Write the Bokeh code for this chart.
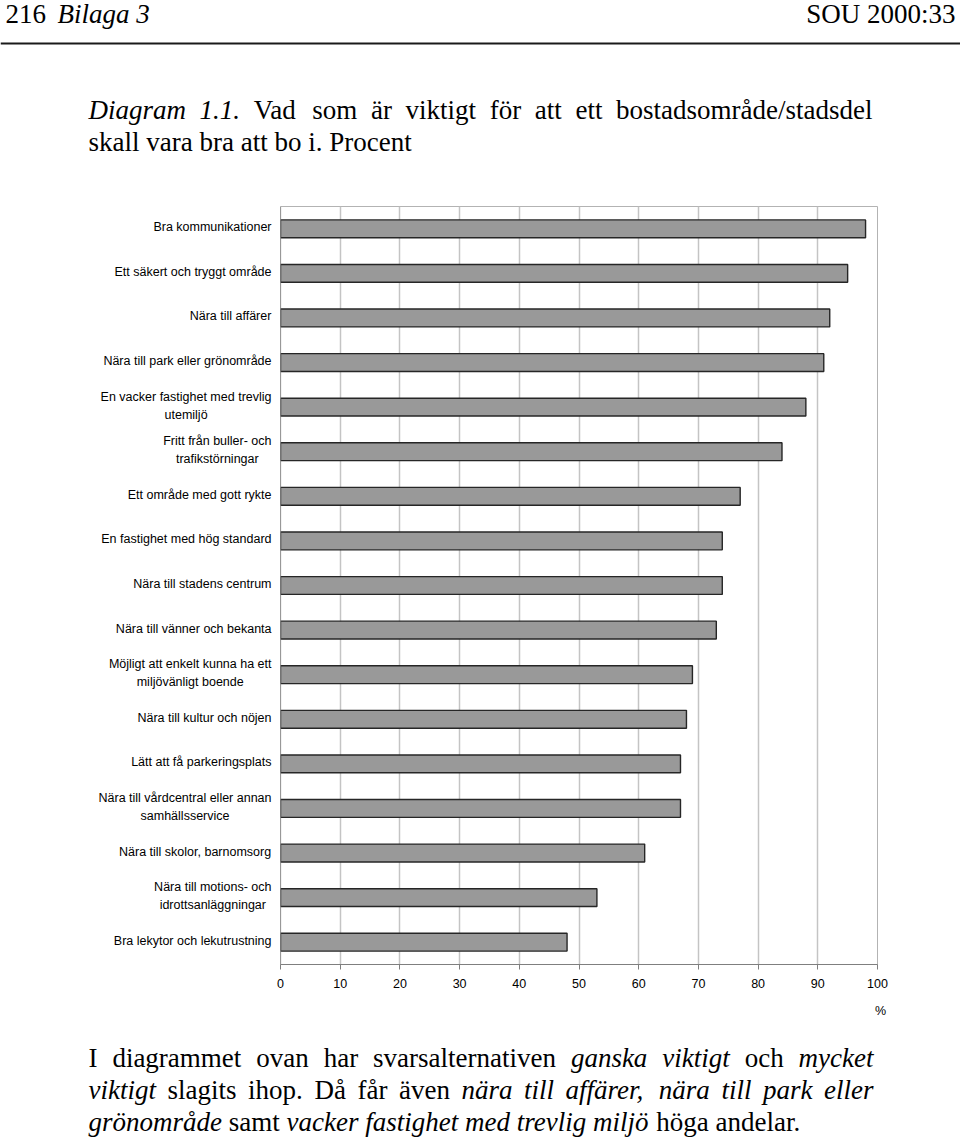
import unicodedata
from bokeh.plotting import figure
from bokeh.layouts import column, row
from bokeh.models import Range1d, ColumnDataSource, FixedTicker, Span
from bokeh.core.properties import value
from bokeh.embed import file_html
from bokeh.resources import INLINE

# ---------------- data ----------------
categories = [
    "Bra kommunikationer",
    "Ett säkert och tryggt område",
    "Nära till affärer",
    "Nära till park eller grönområde",
    "En vacker fastighet med trevlig\nutemiljö",
    "Fritt från buller- och\ntrafikstörningar",
    "Ett område med gott rykte",
    "En fastighet med hög standard",
    "Nära till stadens centrum",
    "Nära till vänner och bekanta",
    "Möjligt att enkelt kunna ha ett\nmiljövänligt boende",
    "Nära till kultur och nöjen",
    "Lätt att få parkeringsplats",
    "Nära till vårdcentral eller annan\nsamhällsservice",
    "Nära till skolor, barnomsorg",
    "Nära till motions- och\nidrottsanläggningar",
    "Bra lekytor och lekutrustning",
]
values = [98, 95, 92, 91, 88, 84, 77, 74, 74, 73, 69, 68, 67, 67, 61, 53, 48]
x_ticks = [0, 10, 20, 30, 40, 50, 60, 70, 80, 90, 100]
axis_unit = "%"

header_left = [("216", "normal"), ("Bilaga 3", "italic")]
header_right = "SOU 2000:33"
title_line1 = [("Diagram 1.1.", "italic"),
               ("Vad som är viktigt för att ett bostadsområde/stadsdel", "normal")]
title_line2 = [("skall vara bra att bo i. Procent", "normal")]
body_line1 = [("I diagrammet ovan har svarsalternativen", "normal"),
              ("ganska viktigt", "italic"), ("och", "normal"), ("mycket", "italic")]
body_line2 = [("viktigt", "italic"), ("slagits ihop. Då får även", "normal"),
              ("nära till affärer,", "italic"), ("nära till park eller", "italic")]
body_line3 = [("grönområde", "italic"), ("samt", "normal"),
              ("vacker fastighet med trevlig miljö", "italic"), ("höga andelar.", "normal")]

# ---------------- font metrics (1/1000 em) ----------------
ARIAL = {' ': 278, 'a': 556, 'b': 556, 'c': 500, 'd': 556, 'e': 556, 'f': 278, 'g': 556,
         'h': 556, 'i': 222, 'j': 222, 'k': 500, 'l': 222, 'm': 833, 'n': 556, 'o': 556,
         'p': 556, 'q': 556, 'r': 333, 's': 500, 't': 278, 'u': 556, 'v': 500, 'w': 722,
         'x': 500, 'y': 500, 'z': 500, '-': 333, ',': 278, '.': 278, 'B': 667, 'E': 667,
         'F': 611, 'L': 556, 'M': 833, 'N': 722}
TIMES_R = {' ': 250, 'a': 444, 'b': 500, 'c': 444, 'd': 500, 'e': 444, 'f': 333, 'g': 500,
           'h': 500, 'i': 278, 'j': 278, 'k': 500, 'l': 278, 'm': 778, 'n': 500, 'o': 500,
           'p': 500, 'q': 500, 'r': 333, 's': 389, 't': 278, 'u': 500, 'v': 500, 'w': 722,
           'x': 500, 'y': 500, 'z': 444, '.': 250, ',': 250, '/': 278, ':': 278, '-': 333,
           'I': 333, 'D': 722, 'V': 722, 'P': 556, 'S': 556, 'O': 722, 'U': 722, 'B': 667}
TIMES_I = {' ': 250, 'a': 500, 'b': 500, 'c': 444, 'd': 500, 'e': 444, 'f': 278, 'g': 500,
           'h': 500, 'i': 278, 'j': 278, 'k': 444, 'l': 278, 'm': 722, 'n': 500, 'o': 500,
           'p': 500, 'q': 500, 'r': 389, 's': 389, 't': 278, 'u': 500, 'v': 444, 'w': 667,
           'x': 444, 'y': 444, 'z': 389, '.': 250, ',': 250, 'B': 611, 'D': 722}


def text_w(s, table, size):
    tot = 0
    for c in s:
        b = unicodedata.normalize("NFD", c)[0]
        tot += table.get(b, 500)
    return tot * size / 1000.0


def tbl(st):
    return TIMES_I if st == "italic" else TIMES_R


PAGE_W, PAGE_H = 960, 1141
TOP_H = 206            # header + title block
MID_H = 792            # chart block (frame 758 + axis 34)
AXIS_H = 34
BOT_H = PAGE_H - TOP_H - MID_H
LAB_W = 274
SERIF = "Liberation Serif"
SANS = "Liberation Sans"
FS = 27
DY = -9                # baseline correction


def blank_fig(w, h, xr, yr):
    f = figure(width=w, height=h, x_range=xr, y_range=yr, min_border=0,
               output_backend="svg", toolbar_location=None, tools="")
    f.axis.visible = False
    f.grid.visible = False
    f.outline_line_color = None
    f.background_fill_color = "white"
    f.border_fill_color = "white"
    return f


class TextCollector:
    def __init__(self):
        self.d = dict(x=[], y=[], text=[], style=[], align=[])

    def add(self, x, y, t, st, align="left"):
        self.d["x"].append(x)
        self.d["y"].append(y + DY)
        self.d["text"].append(t)
        self.d["style"].append(st)
        self.d["align"].append(align)

    def justified(self, segs, x0, x1, y):
        words = [(w, st) for t, st in segs for w in t.split(" ")]
        widths = [text_w(w, tbl(st), FS) for w, st in words]
        gap = (x1 - x0 - sum(widths)) / (len(words) - 1)
        x = x0
        for (w, st), wd in zip(words, widths):
            self.add(x, y, w, st)
            x += wd + gap

    def plain(self, segs, x0, y):
        x = x0
        for t, st in segs:
            self.add(x, y, t, st)
            x += text_w(t + " ", tbl(st), FS)

    def draw(self, f):
        f.text(x="x", y="y", text="text", source=ColumnDataSource(self.d),
               text_font=value(SERIF), text_font_style="style", text_font_size=f"{FS}px",
               text_align="align", text_baseline="alphabetic", text_color="black")


# ---------------- top block: header + title ----------------
top = blank_fig(PAGE_W, TOP_H, Range1d(0, PAGE_W), Range1d(TOP_H, 0))
tc = TextCollector()
tc.add(5, 22, header_left[0][0], header_left[0][1])
tc.add(57, 22, header_left[1][0], header_left[1][1])
tc.add(955, 22, header_right, "normal", align="right")
tc.justified(title_line1, 88, 872, 118)
tc.plain(title_line2, 88, 150)
tc.draw(top)
top.add_layout(Span(location=43, dimension="width", line_color="#1a1a1a", line_width=2))

# ---------------- chart block ----------------
n = len(categories)
ypos = [n - 0.5 - i for i in range(n)]
yr = Range1d(0, n)

chart = figure(width=PAGE_W - LAB_W, height=MID_H, x_range=Range1d(0, 100), y_range=yr,
               min_border_left=280 - LAB_W, min_border_right=PAGE_W - 877,
               min_border_top=0, min_border_bottom=AXIS_H,
               output_backend="svg", toolbar_location=None, tools="")
chart.background_fill_color = "white"
chart.border_fill_color = "white"
chart.outline_line_color = "#b3b3b3"
chart.outline_line_width = 1

bars = ColumnDataSource(dict(y=ypos, v=values))
chart.hbar(y="y", left=0, right="v", height=0.4, source=bars,
           fill_color="#999999", line_color="#262626", line_width=1.4)

chart.xgrid.ticker = FixedTicker(ticks=x_ticks)
chart.xgrid.grid_line_color = "#c4c4c4"
chart.xgrid.grid_line_width = 1.5
chart.ygrid.grid_line_color = None
chart.yaxis.visible = False
chart.add_layout(Span(location=0, dimension="height", line_color="#7f7f7f", line_width=1.2))

ax = chart.xaxis[0]
ax.ticker = FixedTicker(ticks=x_ticks)
ax.axis_line_color = "#7f7f7f"
ax.major_tick_line_color = "#7f7f7f"
ax.minor_tick_line_color = None
ax.major_tick_in = 0
ax.major_tick_out = 5
ax.major_label_standoff = 9
ax.major_label_text_font = SANS
ax.major_label_text_font_size = "12.5px"
ax.major_label_text_color = "black"

# category labels (centered multi-line blocks, right edge at x=271)
labels = figure(width=LAB_W, height=MID_H, x_range=Range1d(0, LAB_W), y_range=yr,
                min_border_left=0, min_border_right=0, min_border_top=0,
                min_border_bottom=AXIS_H, output_backend="svg",
                toolbar_location=None, tools="")
labels.axis.visible = False
labels.grid.visible = False
labels.outline_line_color = None
labels.border_fill_color = "white"
LS = 12.5
lx, ly, lt, lyo = [], [], [], []
for cat, y in zip(categories, ypos):
    lines = cat.split("\n")
    bw = max(text_w(l, ARIAL, LS) for l in lines)
    k = len(lines)
    for j, l in enumerate(lines):
        lx.append(271 - bw / 2.0)
        ly.append(y)
        lt.append(l)
        lyo.append(-(1.5 + ((k - 1) / 2.0 - j) * 18))
labels.text(x="x", y="y", text="text", y_offset="yo",
            source=ColumnDataSource(dict(x=lx, y=ly, text=lt, yo=lyo)),
            text_align="center", text_baseline="middle",
            text_font=value(SANS), text_font_size=f"{LS}px", text_color="black")

# ---------------- bottom block: unit + body text ----------------
bot = blank_fig(PAGE_W, BOT_H, Range1d(0, PAGE_W), Range1d(PAGE_H, TOP_H + MID_H))
bot.text(x=[880], y=[1010], text=[axis_unit], text_align="center", text_baseline="middle",
         text_font=value(SANS), text_font_size=f"{LS}px", text_color="black")
bc = TextCollector()
bc.justified(body_line1, 88, 873, 1066)
bc.justified(body_line2, 88, 873, 1098)
bc.plain(body_line3, 88, 1130)
bc.draw(bot)

layout = column(top, row(labels, chart, spacing=0), bot, spacing=0)
open("out.html", "w").write(file_html(layout, INLINE))
